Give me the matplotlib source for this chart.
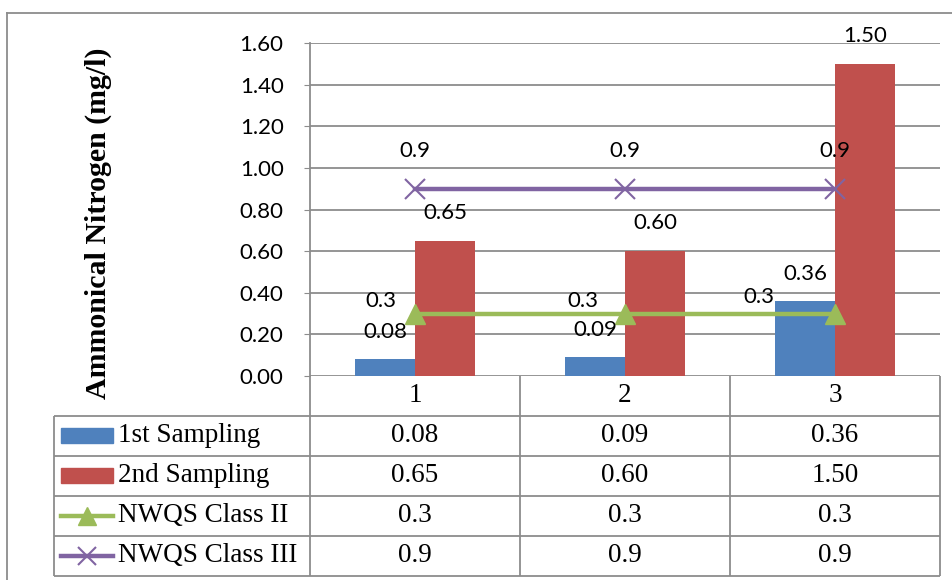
import numpy as np
import matplotlib.pyplot as plt
from matplotlib.lines import Line2D
from matplotlib.patches import Rectangle

# data
cats = ['1', '2', '3']
first = [0.08, 0.09, 0.36]
second = [0.65, 0.60, 1.50]
class2 = [0.3, 0.3, 0.3]
class3 = [0.9, 0.9, 0.9]
first_txt = ['0.08', '0.09', '0.36']
second_txt = ['0.65', '0.60', '1.50']
class2_txt = ['0.3', '0.3', '0.3']
class3_txt = ['0.9', '0.9', '0.9']
series_names = ['1st Sampling', '2nd Sampling', 'NWQS Class II', 'NWQS Class III']

blue = '#4F81BD'
red = '#C0504D'
green = '#9BBB59'
purple = '#8064A2'
grid_c = '#8C8C8C'

W, H = 952, 580
fig = plt.figure(figsize=(W / 100, H / 100), dpi=100)

def px(x0, y0, x1, y1):
    # pixel box -> figure fraction rect
    return [x0 / W, 1 - y1 / H, (x1 - x0) / W, (y1 - y0) / H]

ax = fig.add_axes(px(310, 43, 940, 376))
x = np.arange(len(cats))
bw = 0.286

ax.bar(x - bw / 2, first, bw, color=blue, zorder=2)
ax.bar(x + bw / 2, second, bw, color=red, zorder=2)
ax.plot(x, class2, color=green, lw=3.2, marker='^', ms=14, zorder=3)
ax.plot(x, class3, color=purple, lw=3.2, marker='x', ms=14, mew=1.5, zorder=3)

ax.set_xlim(-0.5, 2.5)
ax.set_ylim(0, 1.6)
ax.set_yticks(np.arange(0, 1.61, 0.2))
ax.set_yticklabels(['%.2f' % v for v in np.arange(0, 1.61, 0.2)],
                   fontfamily='Lato', fontsize=16)
ax.set_xticks([])
ax.tick_params(axis='y', length=4, color=grid_c, pad=15)
ax.grid(axis='y', color=grid_c, lw=1.3, zorder=0)
for s in ['top', 'right', 'bottom']:
    ax.spines[s].set_visible(False)
ax.spines['left'].set_color(grid_c)
ax.spines['left'].set_linewidth(1.3)

# data labels (offsets in pixels)
k = 72 / 100
lab = dict(fontfamily='Lato', fontsize=16, ha='center', va='center',
           textcoords='offset points', zorder=5, annotation_clip=False)
for i in range(3):
    ax.annotate(first_txt[i], (x[i] - bw / 2, first[i]), xytext=(0, 27 * k), **lab)
    ax.annotate(second_txt[i], (x[i] + bw / 2, second[i]), xytext=(0, 28 * k), **lab)
    ax.annotate(class3_txt[i], (x[i], class3[i]), xytext=(0, 38 * k), **lab)
c2_off = [(-34, 13), (-42, 13), (-76, 17)]
for i in range(3):
    ax.annotate(class2_txt[i], (x[i], class2[i]),
                xytext=(c2_off[i][0] * k, c2_off[i][1] * k), **lab)

# data table
tx = fig.add_axes(px(54, 376, 940, 576))
left = -0.5 - (310 - 54) / 210
tx.set_xlim(left, 2.5)
tx.set_ylim(5, 0)
tx.axis('off')
lk = dict(color=grid_c, lw=1.3, clip_on=False)
tx.hlines([1, 2, 3, 4, 5], left, 2.5, **lk)
tx.vlines([-0.5, 0.5, 1.5, 2.5], 0, 5, **lk)
tx.vlines([left], 1, 5, **lk)

tfont = dict(fontfamily='Liberation Serif', fontsize=19.5, va='center')
for i, c in enumerate(cats):
    tx.text(x[i], 0.5, c, ha='center', **tfont)
rows = [first_txt, second_txt, class2_txt, class3_txt]
for r, vals in enumerate(rows):
    for i in range(3):
        tx.text(x[i], r + 1.5, vals[i], ha='center', **tfont)

# legend keys in row headers
kx0 = left + (61 - 54) / 210
kx1 = left + (113 - 54) / 210
tx.add_patch(Rectangle((kx0, 1.3), kx1 - kx0, 0.38, color=blue, clip_on=False))
tx.add_patch(Rectangle((kx0, 2.3), kx1 - kx0, 0.38, color=red, clip_on=False))
tx.plot([kx0, kx1], [3.5, 3.5], color=green, lw=3.2, clip_on=False)
tx.plot([(kx0 + kx1) / 2], [3.5], color=green, marker='^', ms=13, clip_on=False)
tx.plot([kx0, kx1], [4.5, 4.5], color=purple, lw=3.2, clip_on=False)
tx.plot([(kx0 + kx1) / 2], [4.5], color=purple, marker='x', ms=13, mew=1.5, clip_on=False)
for r, name in enumerate(series_names):
    tx.text(left + (118 - 54) / 210, r + 1.5, name, ha='left', **tfont)

# y axis title
fig.text(98 / W, 1 - 223 / H, 'Ammonical Nitrogen (mg/l)', rotation=90,
         ha='center', va='center', fontfamily='Liberation Serif',
         fontweight='bold', fontsize=21.5)

# outer chart border
fig.add_artist(Line2D([7 / W, 1], [1 - 13 / H] * 2, color=grid_c, lw=1.3))
fig.add_artist(Line2D([7 / W] * 2, [0, 1 - 13 / H], color=grid_c, lw=1.3))

plt.savefig('out.png', dpi=100)
